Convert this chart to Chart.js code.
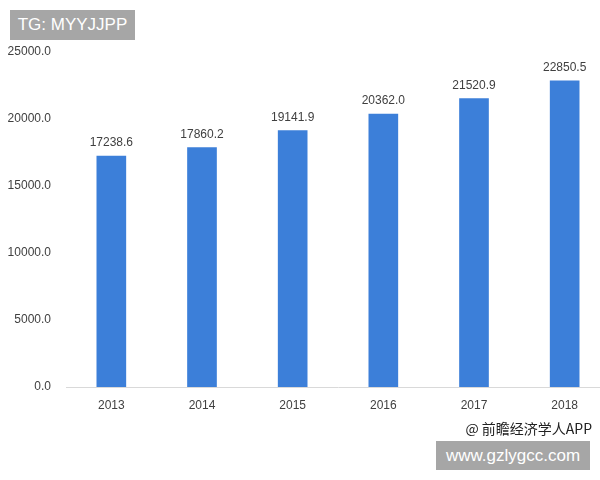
<!DOCTYPE html>
<html>
<head>
<meta charset="utf-8">
<script src="https://cdn.jsdelivr.net/npm/chart.js@4"></script>
<style>
  html, body { margin: 0; padding: 0; background: #fff; overflow: hidden; width: 600px; height: 480px; }
  #wrap { position: absolute; left: 0; top: 0; width: 612px; height: 480px; }
  .tag { position: absolute; background: #a6a6a6; color: #fff; font-family: "Liberation Sans", Arial, sans-serif; font-size: 17px; line-height: 30px; text-align: center; }
  #src { position: absolute; right: 8px; top: 418px; font-family: "Noto Sans CJK SC", sans-serif; font-size: 14px; line-height: 20px; color: #222; }
</style>
</head>
<body>
<div id="wrap"><canvas id="canvas"></canvas></div>
<div class="tag" style="left:10px; top:10px; width:125px; height:30px;">TG: MYYJJPP</div>
<div id="src">@ 前瞻经济学人APP</div>
<div class="tag" style="left:436px; top:441px; width:154px; height:29px; line-height:29px;">www.gzlygcc.com</div>
<script>
  // 年份与数值
  const years = ["2013", "2014", "2015", "2016", "2017", "2018"]
  const values = [17238.6, 17860.2, 19141.9, 20362.0, 21520.9, 22850.5]

  const textColor = "#404040"
  const labelFont = { family: "'Liberation Sans', Arial, sans-serif", size: 12 }

  // 柱子上方的数值
  const barLabels = {
    id: "barLabels",
    afterDatasetsDraw(chart) {
      const ctx = chart.ctx
      ctx.save()
      ctx.fillStyle = textColor
      ctx.font = "12px 'Liberation Sans', Arial, sans-serif"
      ctx.textAlign = "center"
      ctx.textBaseline = "bottom"
      chart.getDatasetMeta(0).data.forEach((bar, i) => {
        ctx.fillText(values[i].toFixed(1), bar.x, bar.y - 7)
      })
      ctx.restore()
    },
  }

  const ctx = document.getElementById("canvas").getContext("2d")
  new Chart(ctx, {
    type: "bar",
    data: {
      labels: years,
      datasets: [{
        data: values,
        backgroundColor: "#3c7fd9",
        barThickness: 29,
      }],
    },
    options: {
      responsive: true,
      maintainAspectRatio: false,
      animation: false,
      layout: { padding: { top: 52, right: 2, bottom: 63, left: 0 } },
      plugins: { legend: { display: false }, tooltip: { enabled: false } },
      scales: {
        x: {
          grid: { display: false },
          border: { display: true, color: "#d9d9d9" },
          ticks: { color: textColor, font: labelFont, padding: 3 },
          afterFit: (scale) => { scale.height = 30 },
        },
        y: {
          min: 0,
          max: 25000,
          grid: { display: false },
          border: { display: false },
          ticks: {
            stepSize: 5000,
            color: textColor,
            font: labelFont,
            padding: 7,
            callback: (v) => v.toFixed(1),
          },
          afterFit: (scale) => { scale.width = 66 },
        },
      },
    },
    plugins: [barLabels],
  })
</script>
</body>
</html>
